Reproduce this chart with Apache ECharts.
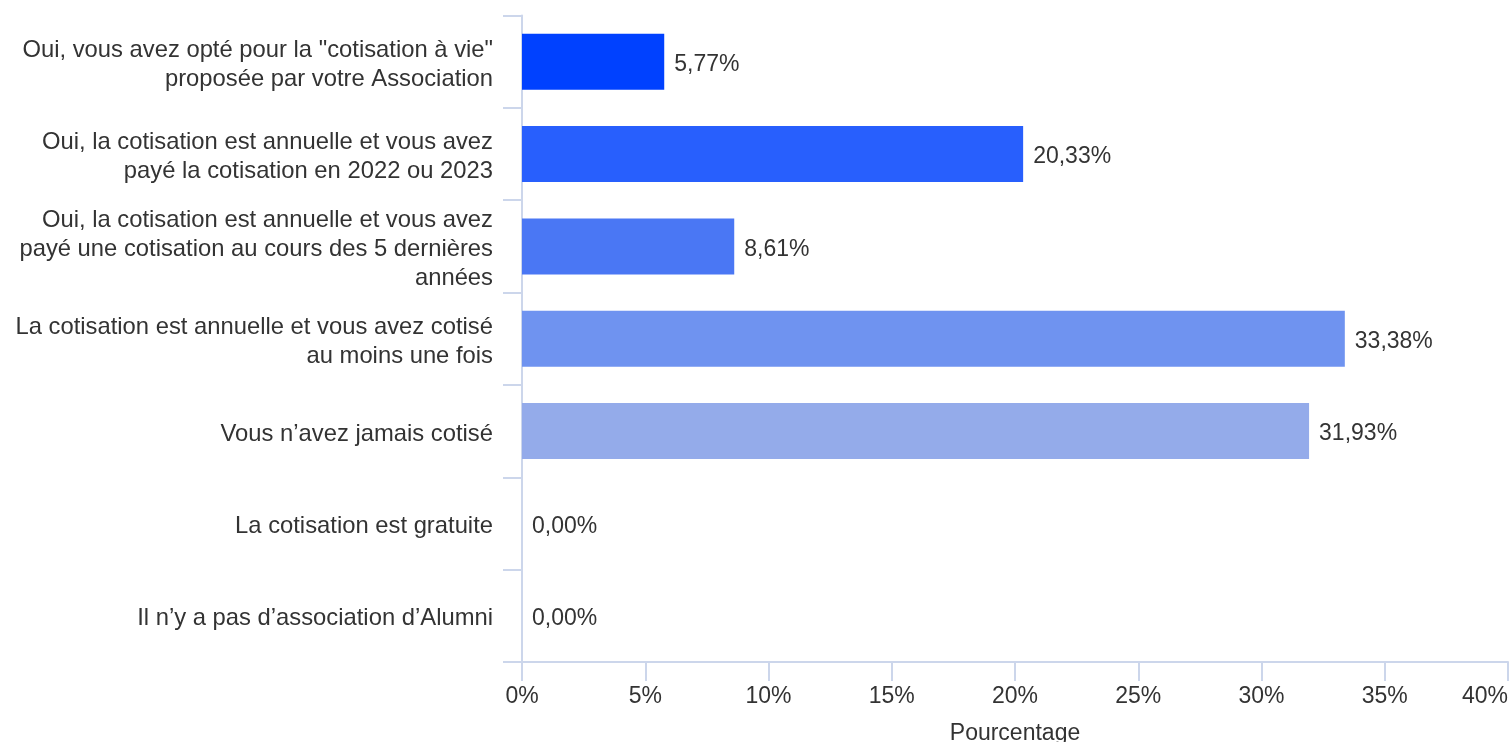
<!DOCTYPE html>
<html>
<head>
<meta charset="utf-8">
<script src="https://cdn.jsdelivr.net/npm/echarts@6/dist/echarts.min.js"></script>
<style>
html,body{margin:0;padding:0;background:#fff;}
#chart{width:1510px;height:742px;}
</style>
</head>
<body>
<div id="chart"></div>
<script>
const categories = [
  'Oui, vous avez opté pour la "cotisation à vie"\nproposée par votre Association',
  'Oui, la cotisation est annuelle et vous avez\npayé la cotisation en 2022 ou 2023',
  'Oui, la cotisation est annuelle et vous avez\npayé une cotisation au cours des 5 dernières\nannées',
  'La cotisation est annuelle et vous avez cotisé\nau moins une fois',
  'Vous n’avez jamais cotisé',
  'La cotisation est gratuite',
  'Il n’y a pas d’association d’Alumni'
];
const values = [5.77, 20.33, 8.61, 33.38, 31.93, 0.00, 0.00];
const barColors = ['#0041ff', '#285ffd', '#4a77f4', '#6f93f0', '#94abea', '#b4c4ee', '#d0dbf5'];
const xTickValues = [0, 5, 10, 15, 20, 25, 30, 35, 40];
const axisName = 'Pourcentage';

const FONT = '"Liberation Sans", Arial, sans-serif';
const chart = echarts.init(document.getElementById('chart'));
chart.setOption({
  animation: false,
  grid: { left: 522, right: 2, top: 15.5, bottom: 80, containLabel: false, outerBoundsMode: 'none' },
  xAxis: {
    type: 'value',
    min: xTickValues[0],
    max: xTickValues[xTickValues.length - 1],
    interval: 5,
    name: axisName,
    nameLocation: 'middle',
    nameGap: 60,
    nameTextStyle: { color: '#333', fontSize: 23, fontFamily: FONT },
    axisLine: { show: true, lineStyle: { color: '#ccd6eb', width: 2 } },
    axisTick: { show: true, length: 19, lineStyle: { color: '#ccd6eb', width: 2 } },
    splitLine: { show: false },
    axisLabel: { color: '#333', fontSize: 23, fontFamily: FONT, margin: 23, alignMaxLabel: 'right', formatter: v => v + '%' }
  },
  yAxis: {
    type: 'category',
    data: categories,
    inverse: true,
    axisLine: { show: true, lineStyle: { color: '#ccd6eb', width: 2 } },
    axisTick: { show: true, length: 19, alignWithLabel: false, lineStyle: { color: '#ccd6eb', width: 2 } },
    axisLabel: {
      color: '#333', fontSize: 23.8, fontFamily: FONT, margin: 29, align: 'right',
      formatter: v => v.split('\n').map(l => '{a|' + l + '}').join('\n'),
      rich: { a: { color: '#333', fontSize: 23.8, fontFamily: FONT, lineHeight: 29, padding: [6, 0, 0, 0], align: 'right' } }
    }
  },
  series: [{
    type: 'bar',
    data: values.map((v, i) => ({ value: v, itemStyle: { color: barColors[i] } })),
    barWidth: 56,
    label: {
      show: true,
      position: 'right',
      distance: 10,
      offset: [0, 3],
      color: '#333',
      fontSize: 23,
      fontFamily: FONT,
      formatter: p => p.value.toFixed(2).replace('.', ',') + '%'
    }
  }]
});
</script>
</body>
</html>
